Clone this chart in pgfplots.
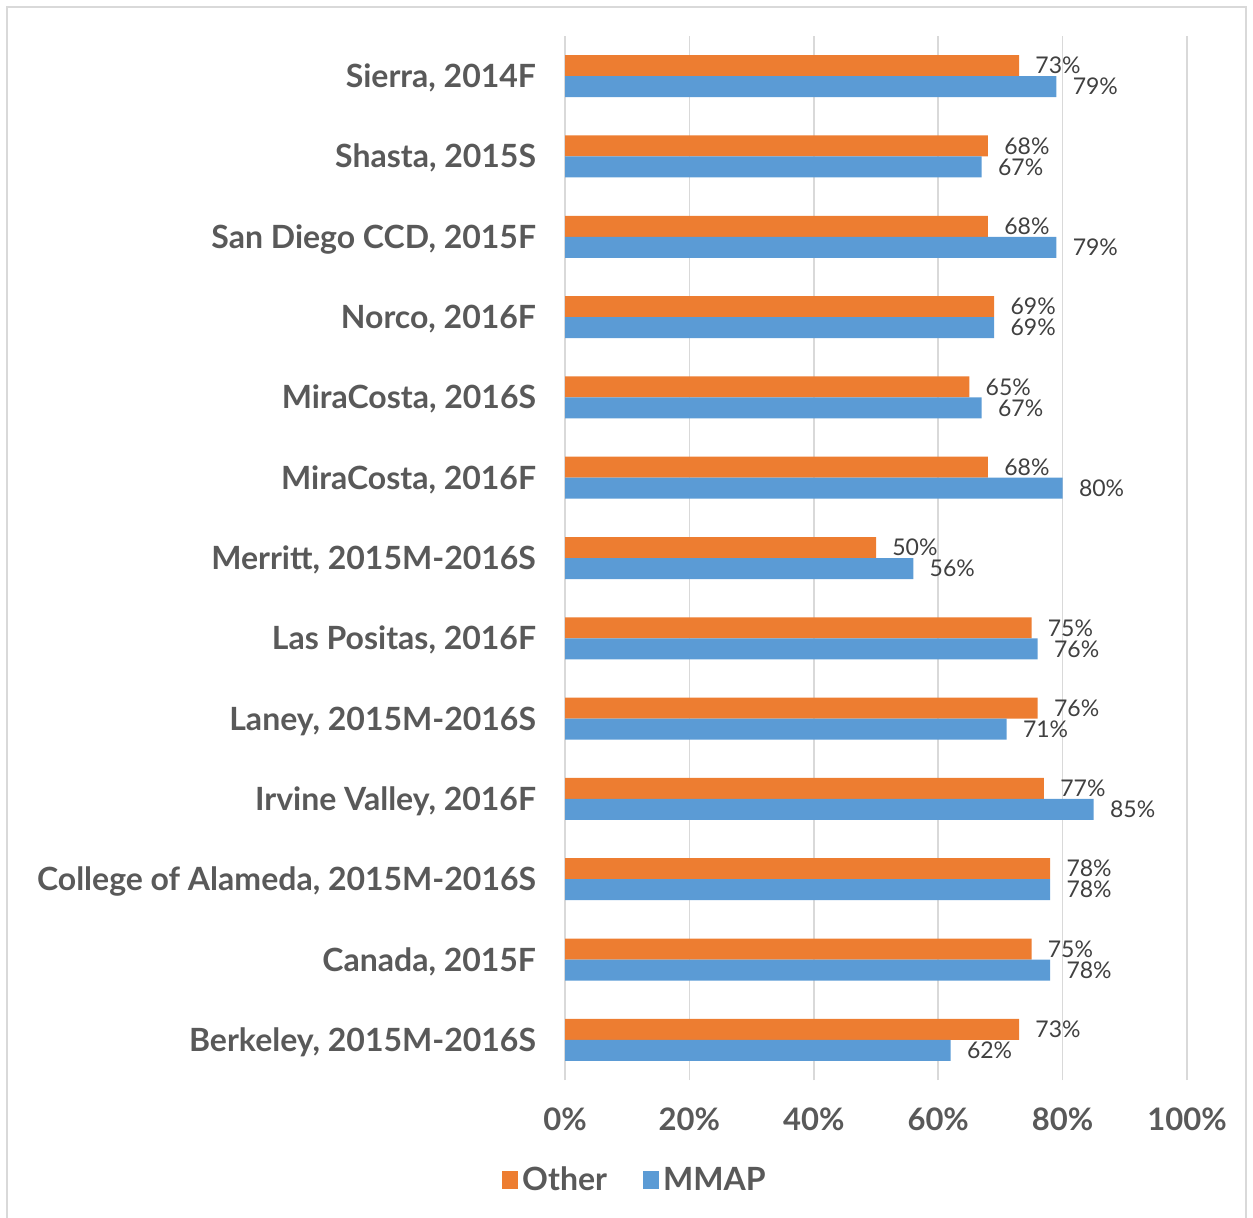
\documentclass[border=0pt]{standalone}
\usepackage{pgfplots}
\pgfplotsset{compat=1.18}
\usepackage{fontspec}
\setmainfont{Lato}
\definecolor{cOther}{HTML}{ED7D31}
\definecolor{cMMAP}{HTML}{5B9BD5}
\definecolor{gridc}{HTML}{D9D9D9}
\definecolor{labc}{HTML}{595959}
\definecolor{valc}{HTML}{404040}
\begin{document}
\begin{tikzpicture}
\useasboundingbox (0,0) rectangle (626.5pt,-608.5pt);
\draw[gridc, line width=0.75pt] (3.5pt,-3.5pt) rectangle (623pt,-640pt);
\begin{axis}[
  at={(282.5pt,-540pt)}, anchor=south west,
  scale only axis, width=311pt, height=522pt,
  xmin=0, xmax=100, ymin=-0.5, ymax=12.5,
  xbar, bar width=10.5pt,
  axis line style={draw=none},
  major tick style={draw=none},
  xmajorgrids, grid style={gridc, line width=0.75pt},
  xtick={0,20,40,60,80,100},
  xticklabels={0\%,20\%,40\%,60\%,80\%,100\%},
  ytick={0,1,2,3,4,5,6,7,8,9,10,11,12},
  yticklabels={{Berkeley, 2015M-2016S},{Canada, 2015F},{College of Alameda, 2015M-2016S},{Irvine Valley, 2016F},{Laney, 2015M-2016S},{Las Positas, 2016F},{Merritt, 2015M-2016S},{MiraCosta, 2016F},{MiraCosta, 2016S},{Norco, 2016F},{San Diego CCD, 2015F},{Shasta, 2015S},{Sierra, 2014F}},
  yticklabel style={font=\bfseries\fontsize{16}{16}\selectfont, text=labc, anchor=base east, inner sep=0pt, xshift=-10pt, yshift=-5.75pt},
  xticklabel style={font=\bfseries\fontsize{15.5}{15.5}\selectfont, text=labc, anchor=base, inner sep=0pt, yshift=-25pt},
  point meta=x,
  nodes near coords={\pgfmathprintnumber[assume math mode=true]{\pgfplotspointmeta}\%},
  nodes near coords align=horizontal,
  every node near coord/.append style={font=\fontsize{11.5}{11.5}\selectfont, text=valc, anchor=west, inner sep=0pt, xshift=8pt},
  legend columns=2,
  legend style={at={(0.114,-0.0958)}, anchor=center, draw=none, fill=none,
    font=\bfseries\fontsize{16}{16}\selectfont, text=labc,
    /tikz/every even column/.append style={column sep=16pt}},
  clip=false,
]
\addplot+[fill=cOther, draw=none, bar shift=5.25pt,
  legend image code/.code={\fill[cOther] (0pt,-4.5pt) rectangle (8pt,4.5pt);}]
  coordinates {(73,0) (75,1) (78,2) (77,3) (76,4) (75,5) (50,6) (68,7) (65,8) (69,9) (68,10) (68,11) (73,12)};
\addlegendentry{Other}
\addplot+[fill=cMMAP, draw=none, bar shift=-5.25pt,
  legend image code/.code={\fill[cMMAP] (0pt,-4.5pt) rectangle (8pt,4.5pt);}]
  coordinates {(62,0) (78,1) (78,2) (85,3) (71,4) (76,5) (56,6) (80,7) (67,8) (69,9) (79,10) (67,11) (79,12)};
\addlegendentry{MMAP}
\end{axis}
\end{tikzpicture}
\end{document}
